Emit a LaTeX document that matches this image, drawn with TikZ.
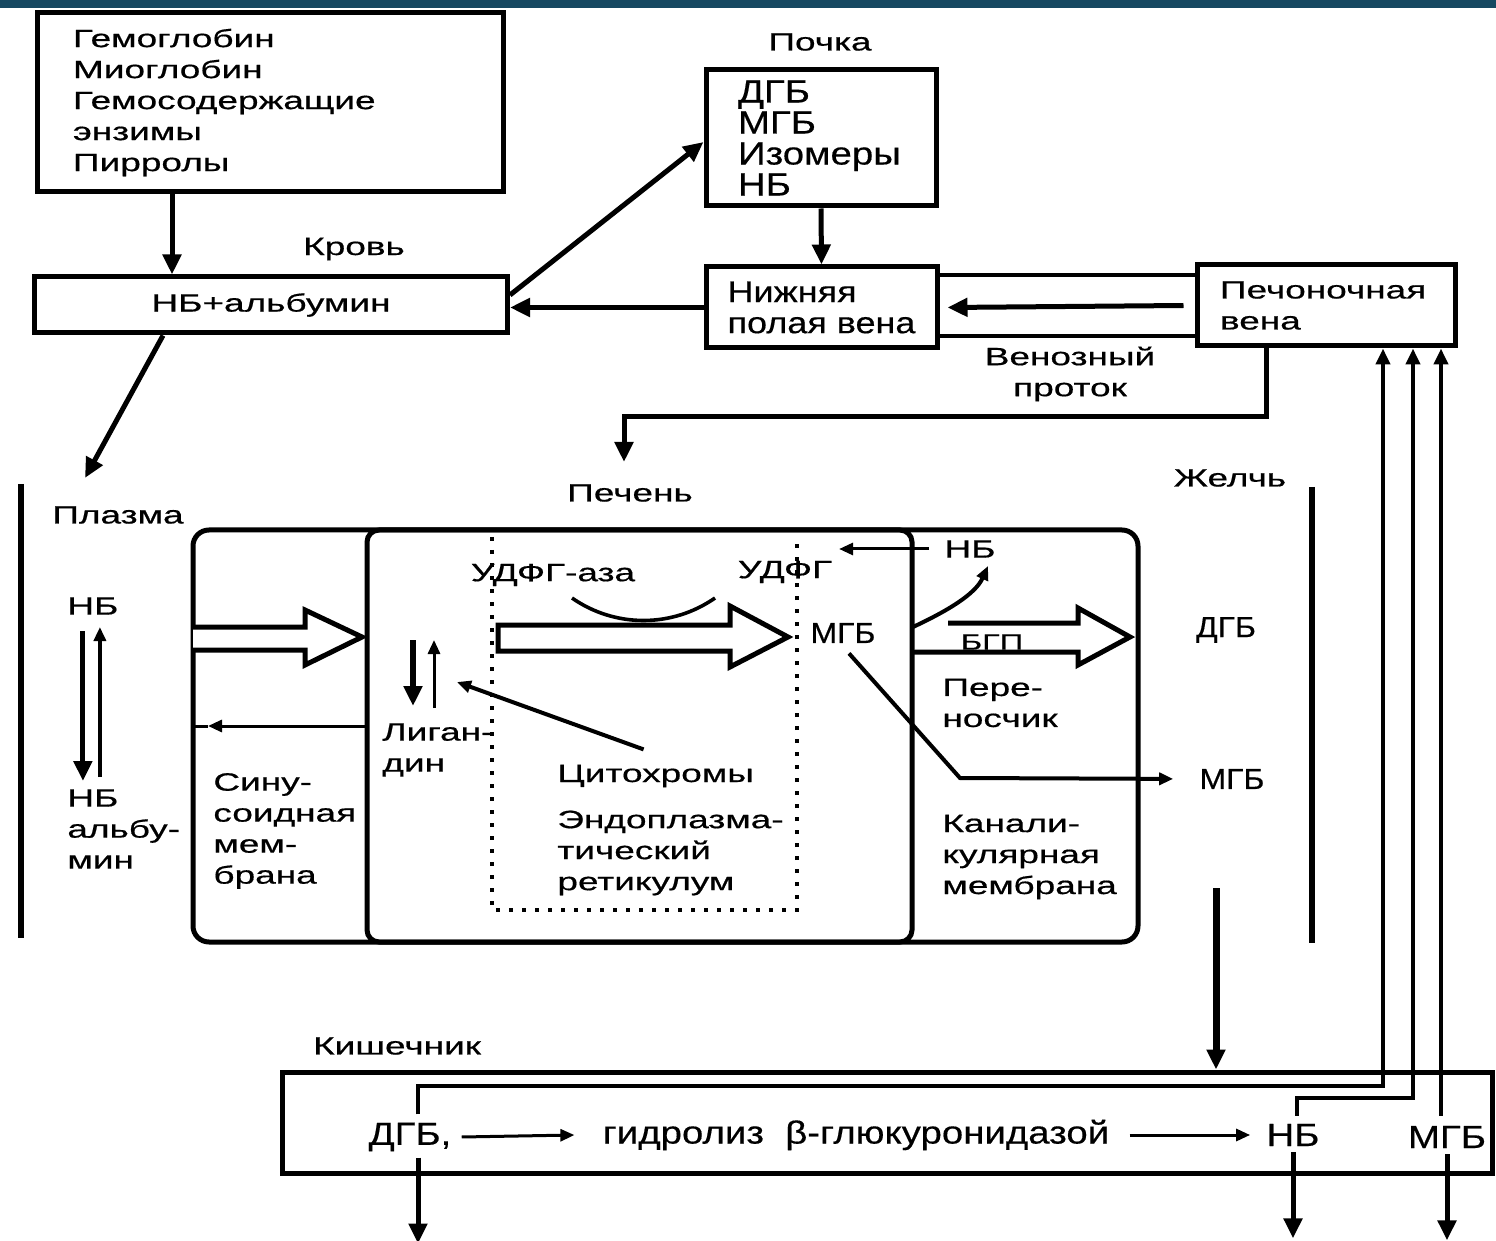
\documentclass[tikz,border=0pt]{standalone}
\usepackage{fontspec}
\setmainfont{Liberation Sans}[FakeStretch=1.48, FakeBold=0.6]
\newfontfamily\narrowfont{Liberation Sans}[FakeStretch=1.1, FakeBold=0.4]
\newfontfamily\tallfont{Liberation Sans}[FakeStretch=1.2, FakeBold=0.4]
\usetikzlibrary{positioning,arrows.meta,calc}
\definecolor{band}{RGB}{22,72,97}
\tikzset{
  box/.style={draw, line width=2.5pt, inner sep=0pt, align=left},
  lbl/.style={inner sep=0pt, align=left, font=\fontsize{12.5}{15.5}\selectfont},
  nlbl/.style={inner sep=0pt, align=left, font=\narrowfont\fontsize{14.5}{15.5}\selectfont},
  tlbl/.style={inner sep=0pt, align=left, font=\tallfont\fontsize{16}{15.5}\selectfont},
  flow/.style={line width=2.5pt, -{Triangle[length=10pt,width=9pt]}},
  thinflow/.style={line width=1.5pt, -{Triangle[length=7pt,width=6pt]}},
  ret/.style={line width=2.2pt, -{Triangle[length=8pt,width=7pt]}},
  hollow/.style={line width=2.5pt, fill=white, line join=miter},
  er/.style={line width=2pt, dash pattern=on 2pt off 4.5pt},
  wall/.style={line width=3pt},
}
\begin{document}
\begin{tikzpicture}[x=0.5pt, y=-0.5pt]
  \useasboundingbox (0,0) rectangle (1496,1241);
  \fill[band] (0,0) rectangle (1496,8);

  \node[box, lbl, minimum width=233pt, minimum height=89.5pt, text width=197pt] (src) at (270,102.5)
    {Гемоглобин\\Миоглобин\\Гемосодержащие\\энзимы\\Пирролы};
  \node[box, lbl, minimum width=236.5pt, minimum height=28pt, align=center] (blood) at (271,305) {НБ+альбумин};
  \node[lbl] (bloodt) at (354,249) {Кровь};
  \node[box, tlbl, minimum width=115pt, minimum height=68pt, text width=83pt] (kid) at (821,138)
    {ДГБ\\МГБ\\Изомеры\\НБ};
  \node[lbl] (kidt) at (820,42) {Почка};
  \node[box, tlbl, font=\tallfont\fontsize{15}{15.5}\selectfont, minimum width=115.5pt, minimum height=40.5pt] (ivc) at (821.5,307.5)
    {Нижняя\\полая вена};
  \node[box, lbl, minimum width=129pt, minimum height=40.5pt, text width=106pt] (hepv) at (1326,305.5)
    {Печоночная\\вена};
  \node[lbl, align=center] (duct) at (1070,374) {Венозный\\проток};

  \draw[flow] ([xshift=-49pt]src.south) -- ([xshift=-49pt]src.south |- blood.north);
  \draw[flow] ([yshift=5pt]blood.east) -- ([yshift=-2pt]kid.west);
  \draw[flow] (kid.south) -- (ivc.north);
  \draw[flow] (ivc.west) -- (ivc.west -| blood.east);
  \draw[line width=2pt] ([yshift=-5.5pt]ivc.north east) -- ([yshift=-5.5pt]ivc.north east -| hepv.west);
  \draw[line width=2pt] ([yshift=7pt]ivc.south east) -- ([yshift=7pt]ivc.south east -| hepv.west);
  \draw[flow] ([xshift=-5.5pt]hepv.west) -- ([xshift=4pt]ivc.east);
  \coordinate (turn) at (624,417);
  \draw[flow] ([xshift=-30pt]hepv.south) |- (turn) -- ++(0,45);

  % plasma
  \node[lbl] (plt) at (118,515) {Плазма};
  \coordinate (plend) at (85,478);
  \draw[flow] ([xshift=-54pt]blood.south) -- (plend);
  \draw[wall] (21,484) -- (21,938);
  \node[lbl, anchor=west] (pnb1) at (67,606) {НБ};
  \node[lbl, anchor=west] (pnb2) at (67,829) {НБ\\альбу-\\мин};
  \draw[flow, shorten >=4pt] ([xshift=-5pt, yshift=-8pt]pnb1.south) -- ([xshift=-5pt]pnb1.south |- pnb2.north);
  \draw[thinflow, line width=2pt] ([xshift=3.5pt, yshift=6pt]pnb1.south |- pnb2.north) -- ([xshift=3.5pt, yshift=-6pt]pnb1.south);

  % liver
  \node[lbl] (livt) at (630,493) {Печень};
  \draw[line width=2.5pt, rounded corners=8pt] (193,530) rectangle (1138,942);
  \draw[line width=2.5pt, rounded corners=6pt] (367,530) rectangle (912,942);
  \draw[er] (492,537) -- (492,910) -- (797,910) -- (797,537);
  \draw[hollow] (193,627) -- (305,627) -- (305,610) -- (362,637) -- (305,665) -- (305,650) -- (193,650);
  \draw[thinflow] (367,726) -- (208,726);
  \draw[line width=1.5pt] (208,726) -- (193,726);
  \node[lbl, anchor=west] (sin) at (213,831) {Сину-\\соидная\\мем-\\брана};

  \node[lbl, anchor=west] (lig) at (382,750) {Лиган-\\дин};
  \draw[flow, line width=3pt] (413,640) -- (413,706);
  \draw[thinflow] (434,708) -- (434,640);

  \node[lbl] (udfga) at (553,575) {УДФГ-аза};
  \node[lbl] (udfg) at (785,572) {УДФГ};
  \draw[line width=1.8pt] (572,598) .. controls (615,628) and (672,628) .. (715,598);
  \draw[hollow] (498,625) -- (730,625) -- (730,606) -- (788,637) -- (730,667) -- (730,651) -- (498,651) -- cycle;
  \node[lbl, anchor=west] (cyt) at (557,776) {Цитохромы};
  \node[lbl, anchor=west] (erl) at (557,853) {Эндоплазма-\\тический\\ретикулум};
  \draw[thinflow, line width=2pt] ($(cyt.north)+(-12,-15)$) -- (457,682);

  \node[nlbl] (lmgb) at (843,633) {МГБ};
  \node[lbl] (lnb) at (970,549) {НБ};
  \draw[thinflow] ($(lnb.west)+(-15,0)$) -- ($(lnb.west)+(-105,0)$);
  \draw[thinflow, line width=2pt] (913,627) .. controls (945,612) and (975,595) .. (988,566);
  \draw[hollow] (948,623) -- (1078,623) -- (1078,608) -- (1130,637) -- (1078,665) -- (1078,652) -- (912,652);
  \node[inner sep=0pt, font=\fontsize{11}{12}\selectfont] (bgp) at (992,642) {БГП};
  \node[lbl, anchor=west] (car) at (942,703) {Пере-\\носчик};
  \node[lbl, anchor=west] (cmem) at (942,857) {Канали-\\кулярная\\мембрана};

  % bile
  \node[lbl] (bilet) at (1230,478) {Желчь};
  \draw[wall] (1312,487) -- (1312,943);
  \node[nlbl] (bdgb) at (1226,630) {ДГБ};
  \node[nlbl] (bmgb) at (1232,779) {МГБ};
  \coordinate (kink) at (960,778);
  \draw[thinflow, line width=2pt, shorten >=13pt] ($(lmgb.south)+(6,10)$) -- (kink) -- (bmgb.west);

  % intestine
  \node[lbl] (gutt) at (397,1046) {Кишечник};
  \node[box, minimum width=605pt, minimum height=50.5pt] (gut) at (887,1122.5) {};
  \node[tlbl] (gdgb) at (410,1137) {ДГБ,};
  \node[tlbl] (hyd) at (856,1135) {гидролиз \ β-глюкуронидазой};
  \node[tlbl] (gnb) at (1293,1135) {НБ};
  \node[tlbl] (gmgb) at (1447,1137) {МГБ};
  \draw[thinflow] ([xshift=5pt]gdgb.east) -- ([xshift=-14pt]hyd.west);
  \draw[thinflow] ([xshift=10pt]hyd.east) -- ([xshift=-8pt]gnb.west);
  \coordinate (bd) at (1216,888);
  \draw[flow, line width=3.5pt] (bd) -- (bd |- gut.north);
  \coordinate (k1) at (1383,1086);
  \coordinate (k2) at (1413,1098);
  \draw[ret, shorten <=4pt] ([xshift=4pt]gdgb.north) |- (k1) -- (k1 |- hepv.south);
  \draw[ret, shorten <=4pt] ([xshift=2pt]gnb.north) |- (k2) -- (k2 |- hepv.south);
  \draw[ret, shorten <=5pt] ([xshift=-3pt]gmgb.north) -- ([xshift=-3pt]gmgb.north |- hepv.south);
  \draw[flow, shorten <=3pt] ([xshift=4pt]gdgb.south) -- ++(0,92);
  \draw[flow, shorten <=3pt] (gnb.south) -- ++(0,92);
  \draw[flow, shorten <=3pt] (gmgb.south) -- ++(0,92);
\end{tikzpicture}
\end{document}
